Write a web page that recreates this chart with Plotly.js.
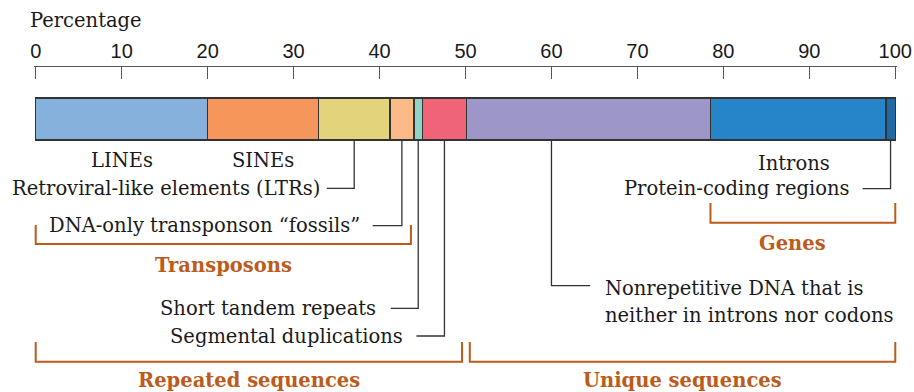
<!DOCTYPE html>
<html>
<head>
<meta charset="utf-8">
<script src="https://cdn.plot.ly/plotly-3.0.1.min.js"></script>
<style>
  html, body { margin: 0; padding: 0; background: #fff; }
  #chart { width: 914px; height: 392px; }
</style>
</head>
<body>
<div id="chart"></div>
<script>
// ---- data: share of the human genome, percent ----
const segments = ['LINEs', 'SINEs', 'Retroviral-like elements (LTRs)', 'DNA-only transponson “fossils”',
  'Short tandem repeats', 'Segmental duplications', 'Nonrepetitive DNA', 'Introns', 'Protein-coding regions'];
const shares = [20.0, 12.9, 8.3, 2.8, 1.0, 5.1, 28.4, 20.4, 1.1];
const segColors = ['#86b1dd', '#f6965a', '#e3d47b', '#fbbb86', '#8fd4c6', '#ef6577', '#9d96c9', '#2684c8', '#1f6aa5'];
const tickVals = [0, 10, 20, 30, 40, 50, 60, 70, 80, 90, 100];

// brackets grouping segments (first and last segment index)
const groupNames = ['Transposons', 'Genes', 'Repeated sequences', 'Unique sequences'];
const groupFrom = [0, 7, 0, 6];
const groupTo = [3, 8, 5, 8];

// ---- layout helpers ----
const SERIF = 'DejaVu Serif, serif';
const SANS = 'Liberation Sans, Arial, sans-serif';
const INK = '#1a1a1a';
const LEAD = '#333';
const ORANGE = '#bd5b1c';
const FS = 19.5;
const BAR_Y = 51.9, BAR_W = 42.3;         // y axis runs in pixels below the top axis line
const BAR_BOTTOM = BAR_Y + BAR_W / 2;

const starts = [];
let acc = 0;
shares.forEach(v => { starts.push(acc); acc += v; });
const ends = starts.map((s, i) => s + shares[i]);
const mid = i => starts[i] + shares[i] / 2;

// how each segment is labelled
const labelSpec = [
  {kind: 'under', y: 93},
  {kind: 'under', y: 93},
  {kind: 'left', elbow: 121.3, lineEnd: 33.85, textX: 33.3},
  {kind: 'left', elbow: 158.7, lineEnd: 39.2, textX: 38.0},
  {kind: 'left', elbow: 241.3, lineEnd: 41.3, textX: 39.8},
  {kind: 'left', elbow: 269, lineEnd: 44.3, textX: 43.0},
  {kind: 'right', lead: 60.0, elbow: 218.7, lineEnd: 64.5, textX: 65.95},
  {kind: 'under', y: 96, x: 88.2},
  {kind: 'left', elbow: 121.7, lineEnd: 96.2, textX: 94.9}
];
const groupSpec = [
  {top: 158, bottom: 177, labelY: 198, gapR: 0.35},
  {top: 136, bottom: 155.7, labelY: 176, labelX: 88.1, gapR: 0},
  {top: 275, bottom: 294.7, labelY: 313, gapR: 0.5},
  {top: 275, bottom: 294.7, labelY: 313, gapL: 0.4, gapR: 0}
];

const labelFont = {family: SERIF, size: FS, color: INK};
const annotations = [];
const shapes = [];

segments.forEach((name, i) => {
  const s = labelSpec[i];
  if (s.kind === 'under') {
    annotations.push({x: s.x !== undefined ? s.x : mid(i), y: s.y, xref: 'x', yref: 'y', text: name,
      showarrow: false, xanchor: 'center', yanchor: 'middle', font: labelFont});
  } else if (s.kind === 'left') {
    const x0 = mid(i);
    shapes.push({type: 'path', xref: 'x', yref: 'y',
      path: `M ${x0},${BAR_BOTTOM} L ${x0},${s.elbow} L ${s.lineEnd},${s.elbow}`,
      line: {color: LEAD, width: 1.3}});
    annotations.push({x: s.textX, y: s.elbow, xref: 'x', yref: 'y', text: name,
      showarrow: false, xanchor: 'right', yanchor: 'middle', font: labelFont});
  } else {
    shapes.push({type: 'path', xref: 'x', yref: 'y',
      path: `M ${s.lead},${BAR_BOTTOM} L ${s.lead},${s.elbow} L ${s.lineEnd},${s.elbow}`,
      line: {color: LEAD, width: 1.3}});
    annotations.push({x: s.textX, y: s.elbow + 2.3, xref: 'x', yref: 'y', text: 'Nonrepetitive DNA that is',
      showarrow: false, xanchor: 'left', yanchor: 'middle', font: labelFont});
    annotations.push({x: s.textX, y: s.elbow + 29.3, xref: 'x', yref: 'y', text: 'neither in introns nor codons',
      showarrow: false, xanchor: 'left', yanchor: 'middle', font: labelFont});
  }
});

groupNames.forEach((name, g) => {
  const gs = groupSpec[g];
  const x0 = starts[groupFrom[g]] + (gs.gapL || 0);
  const x1 = ends[groupTo[g]] - (gs.gapR || 0);
  shapes.push({type: 'path', xref: 'x', yref: 'y',
    path: `M ${x0},${gs.top} L ${x0},${gs.bottom} L ${x1},${gs.bottom} L ${x1},${gs.top}`,
    line: {color: ORANGE, width: 2}});
  annotations.push({x: gs.labelX !== undefined ? gs.labelX : (x0 + x1) / 2, y: gs.labelY, xref: 'x', yref: 'y',
    text: '<b>' + name + '</b>', showarrow: false, xanchor: 'center', yanchor: 'middle',
    font: {family: SERIF, size: FS, color: ORANGE}});
});

const traces = segments.map((name, i) => ({
  type: 'bar',
  orientation: 'h',
  name: name,
  x: [shares[i]],
  y: [BAR_Y],
  width: BAR_W,
  marker: {color: segColors[i], line: {color: LEAD, width: 1.5}},
  hoverinfo: 'skip'
}));

const layout = {
  width: 914,
  height: 392,
  margin: {l: 34, r: 17, t: 67, b: 0},
  paper_bgcolor: '#fff',
  plot_bgcolor: '#fff',
  showlegend: false,
  barmode: 'stack',
  title: {text: 'Percentage', xref: 'container', x: 30 / 914, xanchor: 'left',
    yref: 'container', y: 1 - 20 / 392, yanchor: 'middle', font: {family: SERIF, size: FS, color: INK}},
  xaxis: {
    side: 'top', range: [-0.2, 100.2], tickvals: tickVals, ticks: 'inside', ticklen: 12,
    tickwidth: 1.5, tickcolor: '#555', showline: true, linecolor: '#555', linewidth: 1.5,
    showgrid: false, zeroline: false, fixedrange: true,
    tickfont: {family: SANS, size: 20, color: INK}
  },
  yaxis: {range: [325, 0], visible: false, fixedrange: true},
  shapes: shapes,
  annotations: annotations
};

Plotly.newPlot('chart', traces, layout, {displayModeBar: false, staticPlot: true});
</script>
</body>
</html>
